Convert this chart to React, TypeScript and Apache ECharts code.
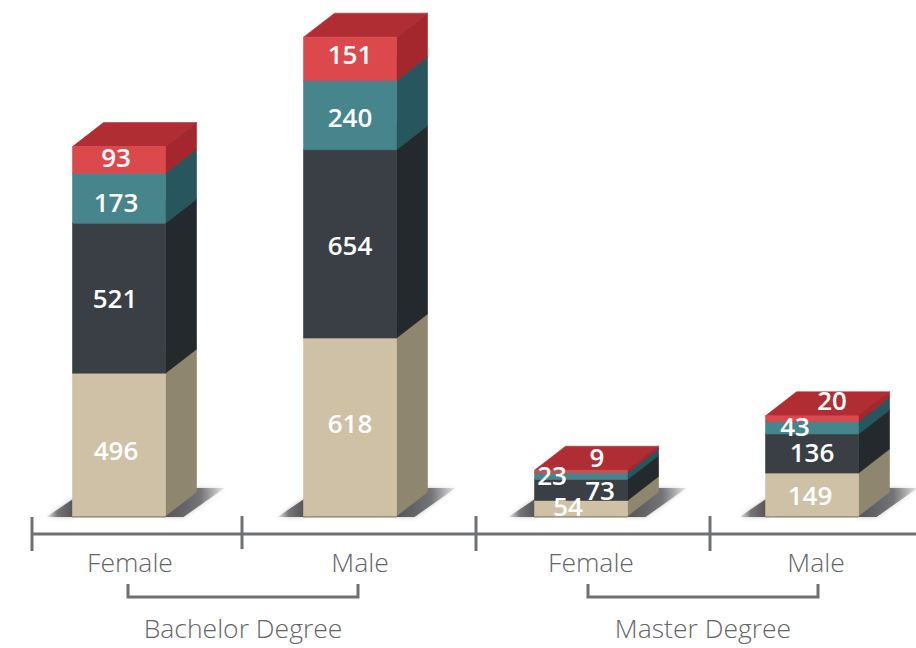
import React, { useEffect, useRef } from "react";
import * as echarts from "echarts";

const categories = ["Bachelor Female", "Bachelor Male", "Master Female", "Master Male"];
const cream = [496, 618, 54, 149];
const slate = [521, 654, 73, 136];
const teal = [173, 240, 23, 43];
const red = [93, 151, 9, 20];
const genderLabels = ["Female", "Male", "Female", "Male"];
const degreeLabels = ["Bachelor Degree", "Master Degree"];

const layers = [
  { name: "Tier 1", values: cream, front: "#cfc1a6", side: "#8f8670", top: "#a89c84" },
  { name: "Tier 2", values: slate, front: "#3a3f46", side: "#23292c", top: "#23292c" },
  { name: "Tier 3", values: teal, front: "#46858c", side: "#27565e", top: "#2b6068" },
  { name: "Tier 4", values: red, front: "#dc494d", side: "#a3272d", top: "#b02e33" },
];

// label nudges [dx, dy] for each segment, by layer then category
const labelNudge: number[][][] = [
  [[-3, 5], [0, -4], [-13, -2], [-2, 0]],
  [[-4, 0], [0, 1], [19, 0], [0, -2]],
  [[-3, 4], [0, 2], [-29, -1], [-17, -2]],
  [[-3, -3], [0, -5], [16, -15], [20, -19]],
];

const BAR_RATIO = 93 / 231;
const DX = 31;
const DY = 24;
const AXIS = "#6e7074";
const TEXT = "#646568";
const FONT = '"Open Sans", sans-serif';

function poly(points: number[][], fill: any) {
  return { type: "polygon", shape: { points }, style: { fill, stroke: fill, lineWidth: 0.6 } };
}

function layerSeries(layer: (typeof layers)[number], idx: number) {
  const data = layer.values.map((v, c) => {
    const base = layers.slice(0, idx).reduce((s, l) => s + l.values[c], 0);
    return [c, base, base + v];
  });
  return {
    type: "custom",
    name: layer.name,
    data,
    clip: false,
    silent: true,
    z: 2 + idx,
    encode: { x: 0, y: [1, 2] },
    renderItem: (_: any, api: any) => {
      const [cx, y0] = api.coord([api.value(0), api.value(1)]);
      const y1 = api.coord([api.value(0), api.value(2)])[1];
      const w = api.size([1, 0])[0] * BAR_RATIO;
      const l = cx - w / 2;
      const r = cx + w / 2;
      return {
        type: "group",
        children: [
          poly([[l, y1], [l + DX, y1 - DY], [r + DX, y1 - DY], [r, y1]], layer.top),
          poly([[r, y0], [r + DX, y0 - DY], [r + DX, y1 - DY], [r, y1]], layer.side),
          poly([[l, y0], [r, y0], [r, y1], [l, y1]], layer.front),
        ],
      };
    },
  };
}

const shadowSeries = {
  type: "custom",
  name: "Shadow",
  data: categories.map((_, c) => [c, 0]),
  clip: false,
  silent: true,
  z: 1,
  encode: { x: 0, y: 1 },
  renderItem: (_: any, api: any) => {
    const [cx, y0] = api.coord([api.value(0), 0]);
    const w = api.size([1, 0])[0] * BAR_RATIO;
    const l = cx - w / 2;
    const r = cx + w / 2;
    const fade = (x0: number, x1: number) => ({
      type: "linear", x: x0, y: 0, x2: x1, y2: 0, global: false,
      colorStops: [
        { offset: 0, color: "rgba(80,80,84,0.98)" },
        { offset: 0.6, color: "rgba(100,100,104,0.85)" },
        { offset: 1, color: "rgba(130,130,134,0.15)" },
      ],
    });
    const soft = (points: number[][], fill: any) => ({
      type: "polygon",
      shape: { points },
      style: { fill, shadowBlur: 4, shadowColor: "rgba(110,110,114,0.45)" },
    });
    return {
      type: "group",
      children: [
        soft([[l + 2, y0 + 1], [l + 2, y0 - 18], [l - 26, y0 + 1]], fade(1, 0)),
        soft([[r - 2, y0 + 1], [r + 29, y0 - 28], [r + 59, y0 - 28], [r + 18, y0 + 1]], fade(0, 1)),
        poly([[l, y0], [r, y0], [r, y0 + 1.2], [l, y0 + 1.2]], "#8d8470"),
      ],
    };
  },
};

const labelSeries = {
  type: "custom",
  name: "Values",
  data: layers.flatMap((layer, idx) =>
    layer.values.map((v, c) => {
      const base = layers.slice(0, idx).reduce((s, l) => s + l.values[c], 0);
      return [c, base + v / 2, v, idx];
    })
  ),
  clip: false,
  silent: true,
  z: 10,
  encode: { x: 0, y: 1 },
  renderItem: (_: any, api: any) => {
    const c = api.value(0);
    const [cx, cy] = api.coord([c, api.value(1)]);
    const [dx, dy] = labelNudge[api.value(3)][c];
    return {
      type: "text",
      x: cx + dx,
      y: cy + dy,
      style: {
        text: String(api.value(2)),
        fill: "#ffffff",
        font: `600 26px ${FONT}`,
        align: "center",
        verticalAlign: "middle",
      },
    };
  },
};

const axisLine = { stroke: AXIS, lineWidth: 3 };
const seg = (x1: number, y1: number, x2: number, y2: number) => ({
  type: "line", silent: true, shape: { x1, y1, x2, y2 }, style: axisLine,
});
const caption = (text: string, x: number, y: number) => ({
  type: "text", silent: true, x, y,
  style: { text, fill: TEXT, font: `300 26.5px ${FONT}`, align: "center", verticalAlign: "middle" },
});

const graphics = [
  seg(32, 534, 916, 534),
  seg(32, 517, 32, 551),
  seg(242, 516, 242, 549),
  seg(476, 516, 476, 551),
  seg(710, 516, 710, 551),
  { type: "polyline", silent: true, shape: { points: [[128, 584], [128, 597], [358, 597], [358, 584]] }, style: { ...axisLine, fill: "none" } },
  { type: "polyline", silent: true, shape: { points: [[588, 584], [588, 597], [818, 597], [818, 584]] }, style: { ...axisLine, fill: "none" } },
  caption(genderLabels[0], 130, 562),
  caption(genderLabels[1], 360, 562),
  caption(genderLabels[2], 591, 562),
  caption(genderLabels[3], 816, 562),
  caption(degreeLabels[0], 243, 628),
  caption(degreeLabels[1], 703, 628),
];

export default function App() {
  const ref = useRef<HTMLDivElement>(null);
  useEffect(() => {
    const chart = echarts.init(ref.current!, null, { renderer: "svg" });
    chart.setOption({
      animation: false,
      backgroundColor: "#ffffff",
      grid: { left: 3.5, right: 0, top: 0, height: 516, containLabel: false },
      xAxis: { type: "value", min: -0.5, max: 3.45, show: false },
      yAxis: { type: "value", min: 0, max: 1792, show: false },
      series: [shadowSeries, ...layers.map(layerSeries), labelSeries],
      graphic: graphics,
    });
    return () => chart.dispose();
  }, []);
  return <div ref={ref} style={{ position: "fixed", left: 0, top: 0, width: 916, height: 648 }} />;
}
